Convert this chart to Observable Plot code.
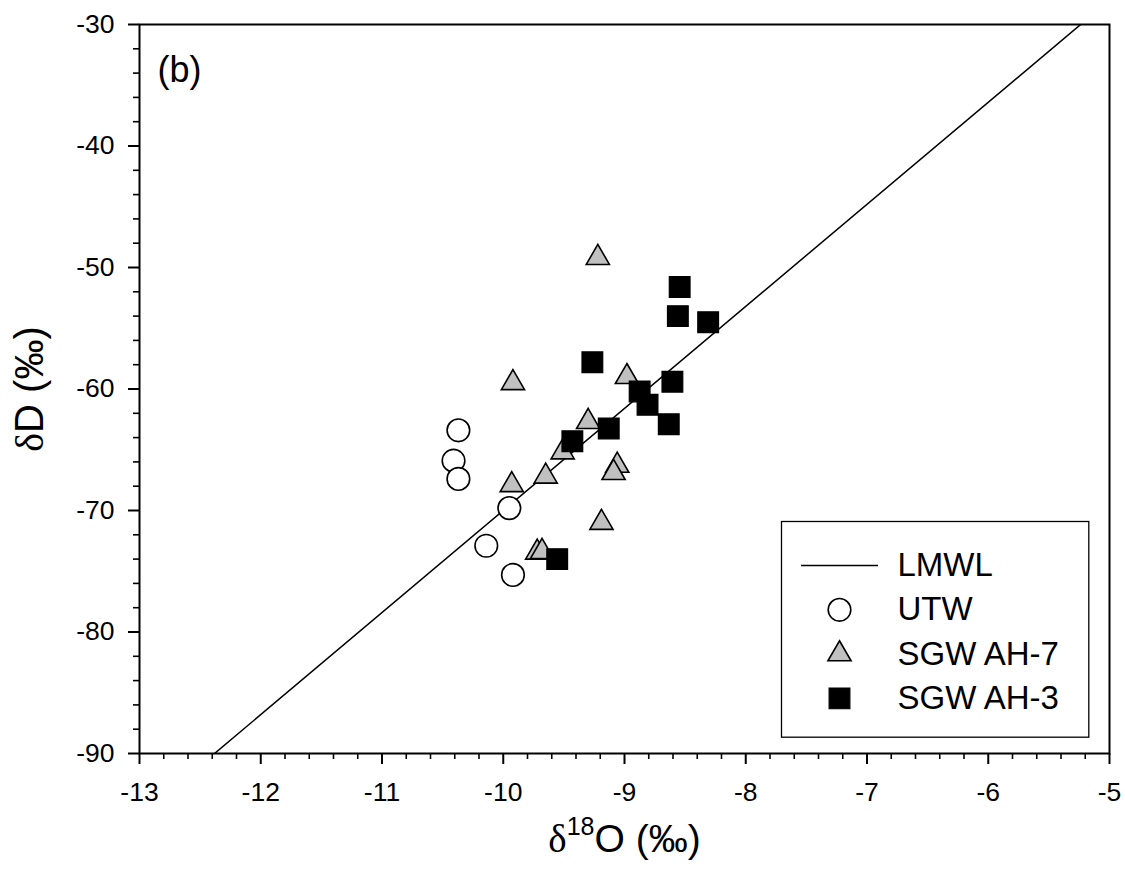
<!DOCTYPE html>
<html>
<head>
<meta charset="utf-8">
<script src="https://cdn.jsdelivr.net/npm/d3@7"></script>
<script src="https://cdn.jsdelivr.net/npm/@observablehq/plot@0.6"></script>
<style>
  html, body { margin: 0; padding: 0; background: #fff; }
  #chart { width: 1125px; height: 871px; }
</style>
</head>
<body>
<div id="chart"></div>
<script>
// ---- data ----
const utwX = [-10.37, -10.41, -10.37, -9.95, -10.14, -9.92];
const utwY = [-63.4, -65.9, -67.4, -69.8, -72.9, -75.3];

const ah7X = [-9.22, -9.92, -8.98, -9.30, -9.51, -9.65, -9.93, -9.06, -9.09, -9.19, -9.72, -9.68];
const ah7Y = [-49.2, -59.5, -59.0, -62.7, -65.2, -67.2, -67.9, -66.3, -66.9, -71.0, -73.45, -73.4];

const ah3X = [-8.545, -8.56, -8.31, -9.265, -8.605, -8.875, -8.81, -9.13, -8.635, -9.43, -9.555];
const ah3Y = [-51.6, -54.0, -54.5, -57.8, -59.4, -60.2, -61.3, -63.25, -62.9, -64.3, -74.0];

// local meteoric water line: dD = slope * d18O + intercept
const lmwlSlope = 8.4;
const lmwlIntercept = 14;

const xDomain = [-13, -5];
const yDomain = [-90, -30];
const xTicks = [-13, -12, -11, -10, -9, -8, -7, -6, -5];
const yTicks = [-30, -40, -50, -60, -70, -80, -90];
const xMinorTicks = d3.range(-13, -5.0001, 0.2).map(v => +v.toFixed(1)).filter(v => !xTicks.includes(v));
const yMinorTicks = d3.range(-90, -29.999, 2).filter(v => !yTicks.includes(v));

const legendLabels = ["LMWL", "UTW", "SGW AH-7", "SGW AH-3"];
const xTitle = "δ18O (‰)";
const yTitle = "δD (‰)";
const panelLabel = "(b)";

// ---- build ----
const utw = utwX.map((x, i) => ({x, y: utwY[i]}));
const ah7 = ah7X.map((x, i) => ({x, y: ah7Y[i]}));
const ah3 = ah3X.map((x, i) => ({x, y: ah3Y[i]}));

const font = "'Liberation Sans', Arial, Helvetica, sans-serif";
const lineSymbol = {
  draw(ctx, size) {
    const h = Math.sqrt(size / Math.PI);
    ctx.moveTo(-h, 0);
    ctx.lineTo(h, 0);
  }
};
const styles = [
  {symbol: lineSymbol, r: 38.5, fill: "none", stroke: "black", strokeWidth: 1.5},
  {symbol: "circle", r: 11.3, fill: "white", stroke: "black", strokeWidth: 1.6},
  {symbol: "triangle", r: 8.6, fill: "#c0c0c0", stroke: "black", strokeWidth: 1.6},
  {symbol: "square", r: 11.7, fill: "black", stroke: "black", strokeWidth: 1.2}
];

const marks = [
  Plot.line(xDomain, {x: d => d, y: d => lmwlSlope * d + lmwlIntercept, stroke: "black", strokeWidth: 1.5, clip: true}),
  Plot.dot(utw, {x: "x", y: "y", ...styles[1]}),
  Plot.dot(ah7, {x: "x", y: "y", ...styles[2]}),
  Plot.dot(ah3, {x: "x", y: "y", ...styles[3]}),
  Plot.axisX({ticks: xTicks, tickSize: 11, tickPadding: 18, strokeWidth: 2, tickFormat: d => String(d), fontSize: 26.5, label: null}),
  Plot.axisX({ticks: xMinorTicks, tickSize: 6, strokeWidth: 1.6, fill: "none", label: null}),
  Plot.axisY({ticks: yTicks, tickSize: 11, tickPadding: 14, strokeWidth: 2, tickFormat: d => String(d), fontSize: 26.5, label: null}),
  Plot.axisY({ticks: yMinorTicks, tickSize: 6, strokeWidth: 1.6, fill: "none", label: null}),
  Plot.frame({stroke: "black", strokeWidth: 2}),
  Plot.text([panelLabel], {text: d => d, frameAnchor: "top-left", dx: 18, dy: 32, textAnchor: "start", lineAnchor: "top", fontSize: 36}),
  Plot.text([xTitle], {text: d => d, frameAnchor: "bottom", dy: 86, textAnchor: "middle", lineAnchor: "middle", fontSize: 39}),
  Plot.text([yTitle], {text: d => d, frameAnchor: "left", dx: -109, rotate: -90, textAnchor: "middle", lineAnchor: "middle", fontSize: 40}),
  // legend
  Plot.frame({stroke: "black", strokeWidth: 1.3, insetLeft: 642, insetTop: 497, insetRight: 20.7, insetBottom: 16.3})
];
const legendGap = 44.3;
legendLabels.forEach((lab, i) => {
  const dy = -188 + i * legendGap;
  marks.push(Plot.dot([lab], {frameAnchor: "bottom-right", dx: -270, dy, ...styles[i]}));
  marks.push(Plot.text([lab], {text: d => d, frameAnchor: "bottom-right", dx: -212, dy, textAnchor: "start", lineAnchor: "middle", fontSize: 33}));
});

const svg = Plot.plot({
  width: 1125,
  height: 871,
  marginLeft: 139,
  marginRight: 16,
  marginTop: 24,
  marginBottom: 118,
  style: {fontFamily: font, fontSize: "26px", color: "black", background: "white", overflow: "visible"},
  x: {domain: xDomain, axis: null},
  y: {domain: yDomain, axis: null},
  marks
});

// typographic details: serif delta, superscript 18
d3.select(svg).selectAll("text").each(function() {
  const t = d3.select(this);
  const s = this.textContent;
  if (s === xTitle) {
    t.text(null);
    t.append("tspan").attr("font-family", "'Liberation Serif', 'Times New Roman', serif").text("δ");
    t.append("tspan").attr("font-size", 25).attr("dy", -17).text("18");
    t.append("tspan").attr("dy", 17).text("O (‰)");
  } else if (s === yTitle) {
    t.text(null);
    t.append("tspan").attr("font-family", "'Liberation Serif', 'Times New Roman', serif").text("δ");
    t.append("tspan").text("D (‰)");
  }
});

document.getElementById("chart").appendChild(svg);
</script>
</body>
</html>
